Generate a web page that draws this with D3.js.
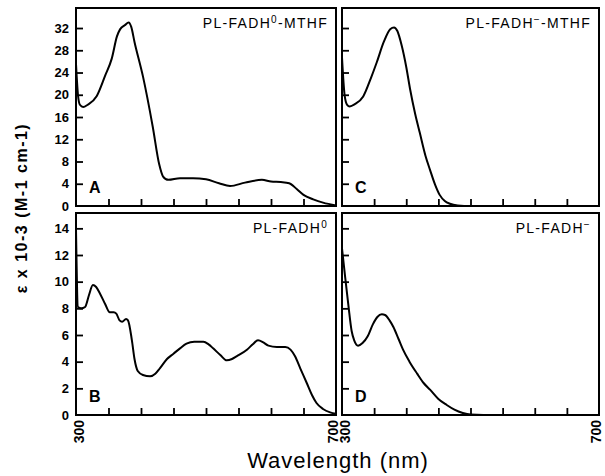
<!DOCTYPE html>
<html>
<head>
<meta charset="utf-8">
<script src="https://cdn.jsdelivr.net/npm/d3@7"></script>
<style>
  body { margin: 0; background: #fff; }
  svg { display: block; font-family: "Liberation Sans", Arial, sans-serif; }
  .frame { fill: none; stroke: #000; stroke-width: 2; }
  .line { fill: none; stroke: #000; stroke-width: 2; }
  .tick line { stroke: #000; stroke-width: 1.8; }
  .tick text { font-size: 13px; font-weight: bold; fill: #000; }
</style>
</head>
<body>
<svg class="spectra" width="605" height="476"></svg>
<script>
// wavelength (nm) and extinction (x 10^-3)
var wlA  = [300, 303, 306, 311, 318, 332, 345, 355, 363, 368, 375, 381, 385, 390, 403, 418, 428, 434, 442, 460, 480, 500, 520, 537, 560, 586, 600, 615, 628, 640, 650, 665, 680, 700];
var epsA = [25.5, 20, 18.2, 17.8, 18.2, 19.8, 23.5, 26.5, 30.5, 31.8, 32.5, 33, 32.2, 29.5, 23.3, 14.3, 7.5, 5.3, 4.7, 5.0, 5.0, 4.8, 4.1, 3.6, 4.2, 4.7, 4.4, 4.3, 4.1, 3.0, 2.0, 1.2, 0.6, 0.1];

var wlB  = [300, 303, 308, 314, 320, 326, 331, 337, 345, 352, 358, 362, 367, 371, 377, 380, 386, 390, 395, 403, 414, 422, 429, 440, 450, 460, 470, 482, 496, 504, 511, 522, 532, 540, 547, 563, 572, 580, 588, 596, 609, 622, 630, 637, 645, 655, 663, 670, 680, 691, 700];
var epsB = [13.9, 8.1, 8.0, 8.1, 9.0, 9.75, 9.6, 9.1, 8.3, 7.7, 7.7, 7.6, 7.1, 7.0, 7.2, 7.1, 5.6, 4.2, 3.3, 3.0, 2.9, 3.1, 3.5, 4.2, 4.6, 5.0, 5.35, 5.5, 5.5, 5.3, 5.0, 4.5, 4.1, 4.2, 4.4, 4.9, 5.3, 5.6, 5.45, 5.2, 5.1, 5.1, 4.9, 4.4, 3.5, 2.4, 1.5, 0.9, 0.45, 0.2, 0.1];

var wlC  = [300, 304, 308, 312, 320, 333, 345, 354, 365, 375, 381, 386, 393, 400, 406, 414, 421, 430, 437, 445, 452, 460, 468, 480, 500, 600, 700];
var epsC = [26.7, 20, 18.2, 17.9, 18.3, 19.7, 23, 25.8, 29.5, 31.8, 32.1, 31.5, 28.8, 25, 21, 16.5, 13.2, 9, 6.5, 3.8, 2, 0.9, 0.4, 0.1, 0, 0, 0];

var wlD  = [300, 305, 310, 315, 319, 325, 332, 340, 348, 355, 362, 367, 374, 380, 388, 395, 405, 417, 427, 437, 450, 463, 475, 488, 500, 520, 600, 700];
var epsD = [12.5, 10.3, 8.2, 6.3, 5.6, 5.2, 5.4, 5.9, 6.8, 7.35, 7.55, 7.5, 7.1, 6.6, 5.7, 4.9, 4.0, 3.1, 2.4, 1.9, 1.2, 0.75, 0.4, 0.15, 0.03, 0, 0, 0];

var yTicksTop = [4, 8, 12, 16, 20, 24, 28, 32];
var yTicksBottom = [2, 4, 6, 8, 10, 12, 14];
var xTicks = [350, 400, 450, 500, 550, 600, 650];
var xEnds = [300, 700];

var svg = d3.select("svg.spectra");

var cols = [{x0: 76, x1: 336}, {x0: 342, x1: 599}];
var rows = [{y0: 8, y1: 206, max: 35.6, ticks: yTicksTop},
            {y0: 213, y1: 415, max: 15.15, ticks: yTicksBottom}];

var panels = [
  {col: 0, row: 0, wl: wlA, eps: epsA, letter: "A", title: ["PL-FADH", "0", "-MTHF"], labels: true},
  {col: 0, row: 1, wl: wlB, eps: epsB, letter: "B", title: ["PL-FADH", "0", ""], labels: true},
  {col: 1, row: 0, wl: wlC, eps: epsC, letter: "C", title: ["PL-FADH", "\u2212", "-MTHF"], labels: false},
  {col: 1, row: 1, wl: wlD, eps: epsD, letter: "D", title: ["PL-FADH", "\u2212", ""], labels: false}
];

panels.forEach(function(p) {
  var c = cols[p.col], r = rows[p.row];

  var x = d3.scaleLinear().domain([300, 700]).range([c.x0, c.x1]);
  var y = d3.scaleLinear().domain([0, r.max]).range([r.y1, r.y0]);

  var line = d3.line()
      .x(function(d) { return x(d[0]); })
      .y(function(d) { return y(d[1]); })
      .curve(d3.curveMonotoneX);

  var data = p.wl.map(function(w, i) { return [w, p.eps[i]]; });

  // inward ticks on the left side
  var yAxis = d3.axisLeft(y)
      .tickValues(r.ticks)
      .tickSizeInner(-7)
      .tickSizeOuter(0)
      .tickPadding(7)
      .tickFormat(p.labels ? d3.format("d") : "");
  var gy = svg.append("g")
      .attr("transform", "translate(" + c.x0 + ",0)")
      .call(yAxis);
  gy.select(".domain").remove();

  if (p.labels) {
    svg.append("text")
      .attr("x", c.x0 - 7)
      .attr("y", r.y1)
      .attr("dy", "0.35em")
      .attr("text-anchor", "end")
      .style("font-size", "13px")
      .style("font-weight", "bold")
      .text("0");
  }

  // inward ticks on the bottom
  var xAxis = d3.axisBottom(x)
      .tickValues(xTicks)
      .tickSizeInner(-7)
      .tickSizeOuter(0)
      .tickFormat("");
  var gx = svg.append("g")
      .attr("transform", "translate(0," + r.y1 + ")")
      .call(xAxis);
  gx.select(".domain").remove();

  svg.append("path")
    .datum(data)
    .attr("class", "line")
    .attr("d", line);

  svg.append("rect")
    .attr("class", "frame")
    .attr("x", c.x0)
    .attr("y", r.y0)
    .attr("width", c.x1 - c.x0)
    .attr("height", r.y1 - r.y0);

  svg.append("text")
    .attr("x", c.x0 + 13)
    .attr("y", r.y1 - 13)
    .style("font-size", "16px")
    .style("font-weight", "bold")
    .text(p.letter);

  var t = svg.append("text")
    .attr("x", c.x1 - 8)
    .attr("y", r.y0 + 20)
    .attr("text-anchor", "end")
    .style("font-size", "14px")
    .style("letter-spacing", "1.3px");
  t.append("tspan").text(p.title[0]);
  t.append("tspan").attr("dy", -5).style("font-size", "10px").text(p.title[1]);
  t.append("tspan").attr("dy", 5).text(p.title[2]);

  // wavelength labels at both ends, turned upright
  if (p.row === 1) {
    xEnds.forEach(function(w) {
      var nudge = w === 300 ? 3 : -3;
      svg.append("text")
        .attr("transform", "translate(" + (x(w) + nudge) + "," + (r.y1 + 5) + ") rotate(-90)")
        .attr("dy", "0.35em")
        .attr("text-anchor", "end")
        .style("font-size", "14px")
        .style("font-weight", "bold")
        .text(w);
    });
  }
});

svg.append("text")
  .attr("transform", "translate(27,208) rotate(-90)")
  .attr("text-anchor", "middle")
  .style("font-size", "16px")
  .style("font-weight", "bold")
  .style("letter-spacing", "1.5px")
  .text("\u03b5 x 10-3 (M-1  cm-1)");

svg.append("text")
  .attr("x", 338)
  .attr("y", 468)
  .attr("text-anchor", "middle")
  .style("font-size", "22px")
  .style("letter-spacing", "1px")
  .text("Wavelength (nm)");
</script>
</body>
</html>
